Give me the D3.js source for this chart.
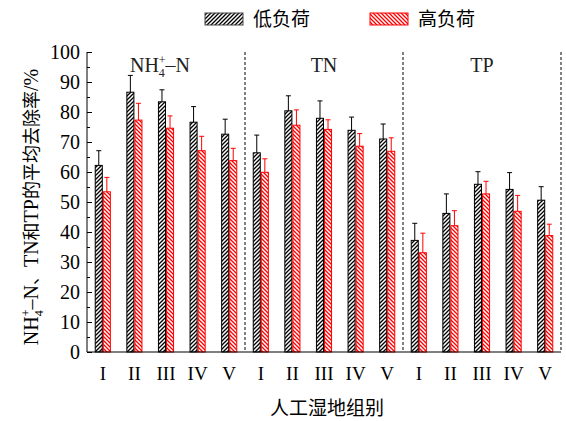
<!DOCTYPE html>
<html>
<head>
<meta charset="utf-8">
<script src="https://cdn.jsdelivr.net/npm/d3@7/dist/d3.min.js"></script>
<style>
  html, body { margin: 0; padding: 0; background: #fff; }
  svg { display: block; }
  .latin { font-family: "Liberation Serif", "Times New Roman", serif; }
  .cjk { font-family: "Noto Sans CJK SC", sans-serif; }
</style>
</head>
<body>
<script>
// Pollutant groups and wetland units
const groups = ["NH4", "TN", "TP"];
const units = ["I", "II", "III", "IV", "V"];
const yTicks = [0, 10, 20, 30, 40, 50, 60, 70, 80, 90, 100];

// Mean removal rates (%) under low load and high load, per group in order NH4+-N, TN, TP
const lowLoad  = [62.2, 86.6, 83.4, 76.6, 72.6,  66.4, 80.4, 77.9, 73.9, 71.0,  37.2, 46.2, 55.9, 54.2, 50.6];
const highLoad = [53.4, 77.3, 74.6, 67.1, 63.8,  59.9, 75.6, 74.2, 68.6, 66.9,  33.1, 42.1, 52.7, 46.9, 38.8];
// Standard deviations (%)
const lowErr   = [4.9, 5.6, 4.0, 5.2, 5.0,  5.9, 5.0, 5.8, 4.4, 5.0,  5.7, 6.5, 4.2, 5.6, 4.5];
const highErr  = [4.8, 5.6, 4.1, 4.8, 4.1,  4.5, 5.1, 3.2, 4.2, 4.5,  6.5, 5.0, 4.2, 5.3, 3.8];

const W = 566, H = 421;
const margin = { left: 87, right: 5, top: 52, bottom: 69 };
const plotW = W - margin.left - margin.right;
const plotH = H - margin.top - margin.bottom;

const keys = [];
groups.forEach(g => units.forEach(u => keys.push(g + "-" + u)));
const rows = keys.map((k, i) => ({
  key: k, group: k.split("-")[0], unit: k.split("-")[1],
  low: lowLoad[i], high: highLoad[i], lowE: lowErr[i], highE: highErr[i]
}));

const svg = d3.select("body").append("svg").attr("width", W).attr("height", H);

// Hatch fills
const defs = svg.append("defs");
function hatch(id, color, forward) {
  const p = defs.append("pattern").attr("id", id)
    .attr("patternUnits", "userSpaceOnUse").attr("width", 4).attr("height", 4);
  p.append("rect").attr("width", 4).attr("height", 4).attr("fill", "#fff");
  p.append("path")
    .attr("d", forward ? "M-1,1 l2,-2 M0,4 l4,-4 M3,5 l2,-2" : "M-1,3 l2,2 M0,0 l4,4 M3,-1 l2,2")
    .attr("stroke", color).attr("stroke-width", 1.3);
}
hatch("hLow", "#000", true);
hatch("hHigh", "#ff0000", false);

const g = svg.append("g").attr("transform", `translate(${margin.left},${margin.top})`);

const x = d3.scaleBand().domain(keys).range([0, plotW]);
const xg = d3.scaleBand().domain(groups).range([0, plotW]);
const sub = d3.scaleBand().domain(["low", "high"])
  .range([x.bandwidth() * 0.245, x.bandwidth() * 0.755]);
const y = d3.scaleLinear().domain([0, 100]).range([plotH, 0]);

// Group separators
g.selectAll("line.sep").data(groups).join("line")
  .attr("class", "sep")
  .attr("x1", d => xg(d) + xg.bandwidth())
  .attr("x2", d => xg(d) + xg.bandwidth())
  .attr("y1", 0).attr("y2", plotH)
  .attr("stroke", "#000").attr("stroke-width", 1).attr("stroke-dasharray", "3,2");

// Bars
const series = [
  { k: "low", v: "low", e: "lowE", fill: "url(#hLow)", stroke: "#000" },
  { k: "high", v: "high", e: "highE", fill: "url(#hHigh)", stroke: "#ff0000" }
];
series.forEach(s => {
  const bg = g.append("g");
  bg.selectAll("rect").data(rows).join("rect")
    .attr("x", d => x(d.key) + sub(s.k) + 0.5)
    .attr("y", d => y(d[s.v]))
    .attr("width", sub.bandwidth() - 1)
    .attr("height", d => y(0) - y(d[s.v]))
    .attr("fill", s.fill).attr("stroke", s.stroke).attr("stroke-width", 1);
  // upper error whiskers
  const cx = d => x(d.key) + sub(s.k) + sub.bandwidth() / 2;
  bg.selectAll("line.w").data(rows).join("line").attr("class", "w")
    .attr("x1", cx).attr("x2", cx)
    .attr("y1", d => y(d[s.v])).attr("y2", d => y(d[s.v] + d[s.e]))
    .attr("stroke", s.stroke).attr("stroke-width", 1);
  bg.selectAll("line.c").data(rows).join("line").attr("class", "c")
    .attr("x1", d => cx(d) - 2.5).attr("x2", d => cx(d) + 2.5)
    .attr("y1", d => y(d[s.v] + d[s.e])).attr("y2", d => y(d[s.v] + d[s.e]))
    .attr("stroke", s.stroke).attr("stroke-width", 1);
});

// Y axis with inward major and minor ticks
const yAxis = d3.axisRight(y).tickValues(yTicks).tickSize(5).tickFormat("");
const ya = g.append("g").call(yAxis);
ya.select(".domain").remove();
const yMinor = d3.axisRight(y).tickValues(d3.range(5, 100, 10)).tickSize(3).tickFormat("");
const ym = g.append("g").call(yMinor);
ym.select(".domain").remove();
g.append("line").attr("x1", 0).attr("x2", 0).attr("y1", 0).attr("y2", plotH)
  .attr("stroke", "#000").attr("stroke-width", 1);
g.selectAll("text.yt").data(yTicks).join("text").attr("class", "yt latin")
  .attr("x", -7).attr("y", d => y(d)).attr("dy", "0.35em")
  .attr("text-anchor", "end").attr("font-size", 20).text(d => d);

// X axis
g.append("line").attr("x1", 0).attr("x2", plotW).attr("y1", plotH).attr("y2", plotH)
  .attr("stroke", "#000").attr("stroke-width", 1.2);
g.selectAll("text.xt").data(rows).join("text").attr("class", "xt latin")
  .attr("x", d => x(d.key) + x.bandwidth() / 2).attr("y", plotH + 28)
  .attr("text-anchor", "middle").attr("font-size", 19).text(d => d.unit);

// Group titles
const gt = g.append("g").attr("class", "latin").attr("font-size", 20).attr("fill", "#222");
const nh = gt.append("text").attr("x", xg("NH4") + xg.bandwidth() / 2 - 6).attr("y", 20)
  .attr("text-anchor", "middle");
nh.append("tspan").text("NH");
nh.append("tspan").attr("font-size", 12).attr("dy", 5).text("4");
nh.append("tspan").attr("font-size", 12).attr("dy", -13).attr("dx", -6).text("+");
nh.append("tspan").attr("dy", 8).text("–N");
gt.append("text").attr("x", xg("TN") + xg.bandwidth() / 2).attr("y", 20)
  .attr("text-anchor", "middle").text("TN");
gt.append("text").attr("x", xg("TP") + xg.bandwidth() / 2).attr("y", 20)
  .attr("text-anchor", "middle").text("TP");

// X title
svg.append("text").attr("class", "cjk").attr("x", 327).attr("y", 415)
  .attr("text-anchor", "middle").attr("font-size", 19).text("人工湿地组别");

// Y title
const yt = svg.append("text").attr("transform", "translate(38,207) rotate(-90)")
  .attr("text-anchor", "middle").attr("font-size", 18);
yt.append("tspan").attr("class", "latin").attr("font-size", 20).text("NH");
yt.append("tspan").attr("class", "latin").attr("font-size", 12).attr("dy", 5).text("4");
yt.append("tspan").attr("class", "latin").attr("font-size", 12).attr("dy", -13).attr("dx", -6).text("+");
yt.append("tspan").attr("class", "latin").attr("font-size", 20).attr("dy", 8).text("–N");
yt.append("tspan").attr("class", "cjk").text("、");
yt.append("tspan").attr("class", "latin").attr("font-size", 20).text("TN");
yt.append("tspan").attr("class", "cjk").text("和");
yt.append("tspan").attr("class", "latin").attr("font-size", 20).text("TP");
yt.append("tspan").attr("class", "cjk").text("的平均去除率");
yt.append("tspan").attr("class", "latin").attr("font-size", 20).text("/%");

// Legend
const legend = [
  { label: "低负荷", fill: "url(#hLow)", stroke: "#444", x: 205 },
  { label: "高负荷", fill: "url(#hHigh)", stroke: "#ff0000", x: 370 }
];
const lg = svg.append("g").selectAll("g").data(legend).join("g");
lg.append("rect").attr("x", d => d.x).attr("y", 13).attr("width", 38).attr("height", 12)
  .attr("fill", d => d.fill).attr("stroke", d => d.stroke).attr("stroke-width", 1);
lg.append("text").attr("class", "cjk").attr("x", d => d.x + 48).attr("y", 26)
  .attr("font-size", 19).text(d => d.label);
</script>
</body>
</html>
